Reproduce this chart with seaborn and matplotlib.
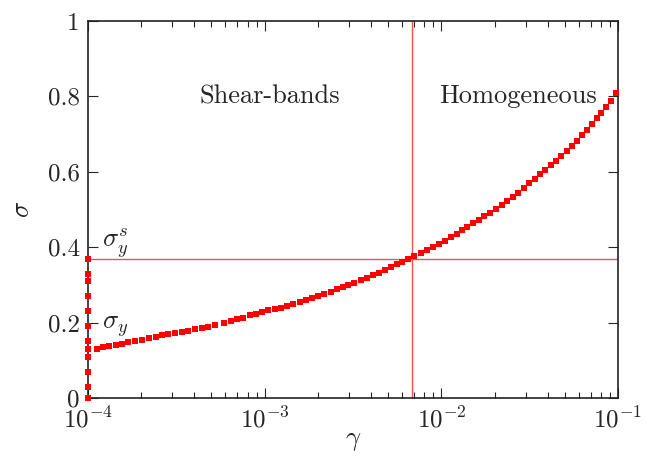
import numpy as np
import pandas as pd
import matplotlib
matplotlib.use("Agg")
import matplotlib.pyplot as plt
import seaborn as sns

# ---- data ----
gamma_flow = [1.00e-4, 1.120e-4, 1.221e-4, 1.320e-4, 1.435e-4, 1.551e-4, 1.691e-4, 1.845e-4, 2.029e-4, 2.214e-4,
              2.416e-4, 2.634e-4, 2.848e-4, 3.108e-4, 3.392e-4, 3.696e-4, 4.034e-4, 4.402e-4, 4.760e-4, 5.236e-4,
              5.886e-4, 6.423e-4, 6.945e-4, 7.569e-4, 8.260e-4, 8.931e-4, 9.621e-4, 1.040e-3, 1.144e-3, 1.232e-3,
              1.333e-3, 1.441e-3, 1.585e-3, 1.707e-3, 1.846e-3, 1.996e-3, 2.159e-3, 2.374e-3, 2.567e-3, 2.787e-3,
              2.974e-3, 3.217e-3, 3.497e-3, 3.781e-3, 4.088e-3, 4.421e-3, 4.798e-3, 5.189e-3, 5.590e-3, 6.014e-3,
              6.502e-3, 7.031e-3, 7.643e-3, 8.265e-3, 8.937e-3, 9.700e-3, 1.049e-2, 1.134e-2, 1.222e-2, 1.304e-2,
              1.403e-2, 1.517e-2, 1.634e-2, 1.751e-2, 1.886e-2, 2.039e-2, 2.197e-2, 2.363e-2, 2.535e-2, 2.728e-2,
              2.937e-2, 3.148e-2, 3.390e-2, 3.619e-2, 3.877e-2, 4.159e-2, 4.457e-2, 4.757e-2, 5.124e-2, 5.490e-2,
              5.837e-2, 6.255e-2, 6.650e-2, 7.097e-2, 7.573e-2, 8.013e-2, 8.518e-2, 9.093e-2, 9.705e-2]
sigma_flow = [0.129, 0.131, 0.135, 0.138, 0.141, 0.144, 0.148, 0.151, 0.155, 0.158,
              0.162, 0.166, 0.169, 0.172, 0.175, 0.179, 0.182, 0.186, 0.189, 0.193,
              0.199, 0.204, 0.209, 0.213, 0.219, 0.224, 0.229, 0.233, 0.237, 0.240,
              0.244, 0.250, 0.255, 0.260, 0.266, 0.271, 0.276, 0.281, 0.289, 0.295,
              0.300, 0.305, 0.312, 0.317, 0.325, 0.332, 0.339, 0.348, 0.355, 0.361,
              0.370, 0.376, 0.385, 0.392, 0.401, 0.408, 0.417, 0.427, 0.436, 0.446,
              0.454, 0.463, 0.472, 0.482, 0.491, 0.501, 0.511, 0.523, 0.534, 0.544,
              0.556, 0.569, 0.580, 0.593, 0.605, 0.618, 0.629, 0.642, 0.655, 0.668,
              0.682, 0.697, 0.711, 0.726, 0.742, 0.755, 0.771, 0.788, 0.808]

gamma_start = 1e-4
sigma_start = [0.37, 0.33, 0.31, 0.27, 0.23, 0.19, 0.15, 0.11, 0.07, 0.03, 0.0]

sigma_ys = 0.37      # static yield stress line
gamma_c = 6.8e-3     # critical shear rate line

x_ticks = [1e-4, 1e-3, 1e-2, 1e-1]
x_ticklabels = [r"$10^{-4}$", r"$10^{-3}$", r"$10^{-2}$", r"$10^{-1}$"]
y_ticks = [0, 0.2, 0.4, 0.6, 0.8, 1]
y_ticklabels = ["0", "0.2", "0.4", "0.6", "0.8", "1"]

# ---- style ----
sns.set_theme(style="ticks")
plt.rcParams["font.family"] = ["cmr10", "DejaVu Serif"]
plt.rcParams["mathtext.fontset"] = "cm"
plt.rcParams["axes.formatter.use_mathtext"] = True

fig = plt.figure(figsize=(6.57, 4.58), dpi=100)
ax = fig.add_axes([88 / 657, 60 / 458, 530 / 657, 377 / 458])

df_flow = pd.DataFrame({"gamma": gamma_flow, "sigma": sigma_flow})
df_start = pd.DataFrame({"gamma": [gamma_start] * len(sigma_start), "sigma": sigma_start})

ax.axhline(sigma_ys, color="#ff5050", lw=1.0, zorder=1)
ax.axvline(gamma_c, color="#ff5050", lw=1.0, zorder=1)

sns.scatterplot(data=df_flow, x="gamma", y="sigma", marker="s", s=24, color="#ff0000",
                linewidth=0, ax=ax, zorder=5, clip_on=False)
sns.scatterplot(data=df_start, x="gamma", y="sigma", marker="s", s=24, color="#ff0000",
                linewidth=0, ax=ax, zorder=5, clip_on=False)

ax.set_xscale("log")
ax.set_xlim(1e-4, 1e-1)
ax.set_ylim(0, 1)
ax.set_xticks(x_ticks)
ax.set_xticklabels(x_ticklabels)
ax.set_yticks(y_ticks)
ax.set_yticklabels(y_ticklabels)

ax.tick_params(which="both", direction="in", top=True, right=True, labelsize=18, pad=6)
ax.tick_params(which="major", length=7, width=0.8)
ax.tick_params(which="minor", length=4, width=0.8)
ax.yaxis.set_minor_locator(matplotlib.ticker.NullLocator())
for sp in ax.spines.values():
    sp.set_color("#222222")
    sp.set_linewidth(1.2)

ax.set_xlabel(r"$\gamma$", fontsize=19, labelpad=-2)
ax.set_ylabel(r"$\sigma$", fontsize=19, labelpad=10)

ax.text(1.2e-4, 0.41, r"$\sigma_y^s$", fontsize=19, ha="left", va="center")
ax.text(1.2e-4, 0.19, r"$\sigma_y$", fontsize=19, ha="left", va="center")
ax.text(1.07e-3, 0.80, "Shear-bands", fontsize=19, ha="center", va="center")
ax.text(2.72e-2, 0.80, "Homogeneous", fontsize=19, ha="center", va="center")

fig.savefig("out.png", dpi=100)
